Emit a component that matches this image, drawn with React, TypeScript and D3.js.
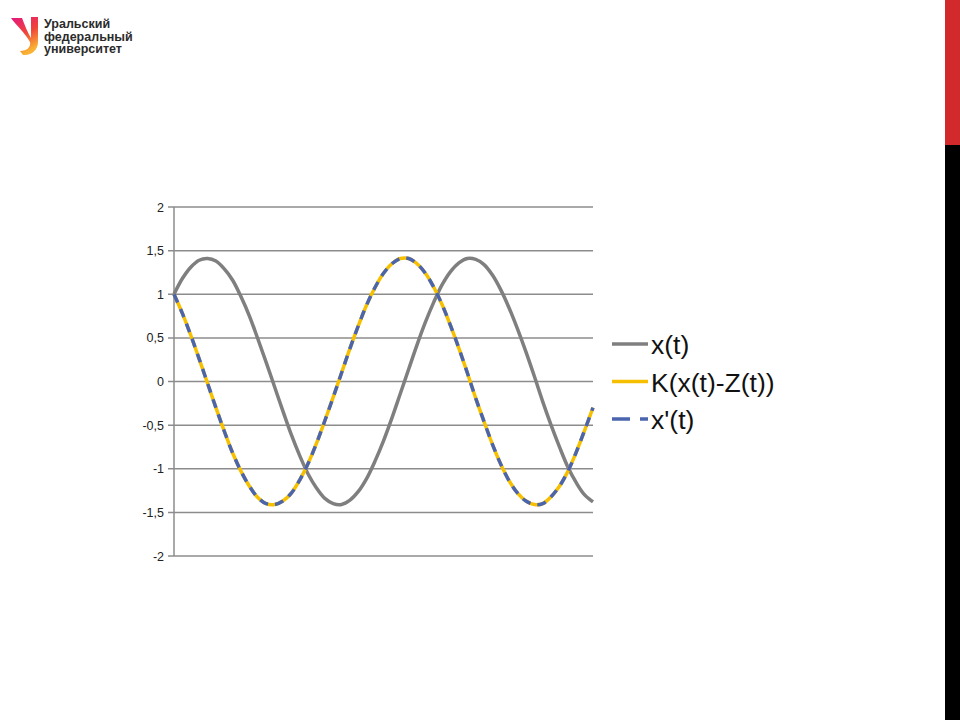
import React from "react";
import * as d3 from "d3";

const tValues = [0, 0.2, 0.4, 0.6, 0.8, 1, 1.2, 1.4, 1.6, 1.8, 2, 2.2, 2.4, 2.6, 2.8, 3, 3.2, 3.4, 3.6, 3.8, 4, 4.2, 4.4, 4.6, 4.8, 5, 5.2, 5.4, 5.6, 5.8, 6, 6.2, 6.4, 6.6, 6.8, 7, 7.2, 7.4, 7.6, 7.8, 8, 8.2, 8.4, 8.6, 8.8, 9, 9.2, 9.4, 9.6, 9.8, 10];
const xSeries = [1, 1.18, 1.31, 1.39, 1.41, 1.38, 1.29, 1.16, 0.97, 0.75, 0.49, 0.22, -0.06, -0.34, -0.61, -0.85, -1.06, -1.22, -1.34, -1.4, -1.41, -1.36, -1.26, -1.11, -0.91, -0.68, -0.42, -0.14, 0.14, 0.42, 0.68, 0.91, 1.11, 1.26, 1.36, 1.41, 1.4, 1.34, 1.22, 1.05, 0.84, 0.6, 0.34, 0.06, -0.23, -0.5, -0.75, -0.98, -1.16, -1.3, -1.38];
const kSeries = [1, 0.78, 0.53, 0.26, -0.02, -0.3, -0.57, -0.82, -1.03, -1.2, -1.33, -1.4, -1.41, -1.37, -1.28, -1.13, -0.94, -0.71, -0.45, -0.18, 0.1, 0.38, 0.64, 0.88, 1.08, 1.24, 1.35, 1.41, 1.41, 1.35, 1.24, 1.08, 0.88, 0.64, 0.38, 0.1, -0.19, -0.46, -0.72, -0.95, -1.14, -1.28, -1.37, -1.41, -1.4, -1.32, -1.2, -1.03, -0.81, -0.56, -0.3];
const dSeries = [1, 0.78, 0.53, 0.26, -0.02, -0.3, -0.57, -0.82, -1.03, -1.2, -1.33, -1.4, -1.41, -1.37, -1.28, -1.13, -0.94, -0.71, -0.45, -0.18, 0.1, 0.38, 0.64, 0.88, 1.08, 1.24, 1.35, 1.41, 1.41, 1.35, 1.24, 1.08, 0.88, 0.64, 0.38, 0.1, -0.19, -0.46, -0.72, -0.95, -1.14, -1.28, -1.37, -1.41, -1.4, -1.32, -1.2, -1.03, -0.81, -0.56, -0.3];
const yTicks = [2, 1.5, 1, 0.5, 0, -0.5, -1, -1.5, -2];
const legendLabels = ["x(t)", "K(x(t)-Z(t))", "x'(t)"];
const logoLines = ["Уральский", "федеральный", "университет"];

const GRAY = "#7f7f7f";
const YELLOW = "#f6c000";
const BLUE = "#4a65ad";

export default function App() {
  const x = d3.scaleLinear().domain([0, 10]).range([174, 593]);
  const y = d3.scaleLinear().domain([-2, 2]).range([556, 207]);
  const mk = (vals: number[]) =>
    d3
      .line<number>()
      .x((_, i) => x(tValues[i]))
      .y((v) => y(v))
      .curve(d3.curveCatmullRom)(vals) || "";
  const fmt = (v: number) => String(v).replace(".", ",");

  return (
    <svg
      width={960}
      height={720}
      style={{ position: "absolute", left: 0, top: 0, background: "#fff" }}
      fontFamily="Arial, 'Liberation Sans', sans-serif"
    >
      <rect x={0} y={0} width={960} height={720} fill="#fff" />
      {/* logo */}
      <defs>
        <linearGradient id="lg" x1="0" y1="0" x2="0.4" y2="1">
          <stop offset="0" stopColor="#e3157f" />
          <stop offset="0.55" stopColor="#f0443a" />
          <stop offset="1" stopColor="#f9b233" />
        </linearGradient>
      </defs>
      <path
        d="M11,18 L22,18 C25,26 28,33 31,38 L31,17 L38,17 L38,42 C38,50 31,56 23,55 L20,51 C27,51 31,47 30,42 C25,33 16,25 11,18 Z"
        fill="url(#lg)"
      />
      {logoLines.map((s, i) => (
        <text key={s} x={44} y={28 + i * 12.5} fontSize={12.5} fontWeight="bold" fill="#2b2b2b">
          {s}
        </text>
      ))}
      {/* right bar */}
      <rect x={945} y={0} width={15} height={145} fill="#d2292d" />
      <rect x={945} y={145} width={15} height={575} fill="#000" />

      {/* grid */}
      {yTicks.map((v) => (
        <g key={v}>
          <line x1={168} x2={593} y1={y(v)} y2={y(v)} stroke="#8c8c8c" strokeWidth={1.5} />
          <text x={164} y={y(v) + 4.5} fontSize={12.5} textAnchor="end" fill="#222">
            {fmt(v)}
          </text>
        </g>
      ))}
      <line x1={174} x2={174} y1={y(2)} y2={y(-2)} stroke="#8c8c8c" strokeWidth={1.5} />

      {/* series */}
      <path d={mk(xSeries)} fill="none" stroke={GRAY} strokeWidth={3.5} />
      <path d={mk(kSeries)} fill="none" stroke={YELLOW} strokeWidth={3.5} />
      <path d={mk(dSeries)} fill="none" stroke={BLUE} strokeWidth={3.5} strokeDasharray="9,7" />

      {/* legend */}
      {legendLabels.map((s, i) => {
        const ly = 344 + i * 37.5;
        const col = [GRAY, YELLOW, BLUE][i];
        return (
          <g key={s}>
            <line
              x1={612}
              x2={648}
              y1={ly}
              y2={ly}
              stroke={col}
              strokeWidth={3.5}
              strokeDasharray={i === 2 ? "18,10" : undefined}
            />
            <text x={651} y={ly + 10} fontSize={26.5} fill="#111">
              {s}
            </text>
          </g>
        );
      })}
    </svg>
  );
}
